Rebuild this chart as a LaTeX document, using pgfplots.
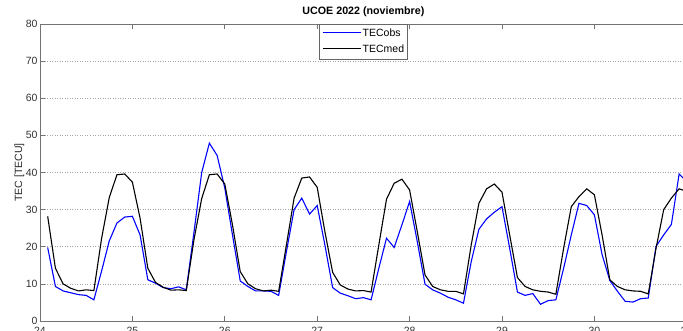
\documentclass[border=0pt]{standalone}
\usepackage{fontspec}
\setmainfont{Liberation Sans}
\usepackage{pgfplots}
\usepackage{pgfplotstable}
\pgfplotsset{compat=1.18}
\definecolor{obsblue}{rgb}{0,0,1}
\pgfplotstableread{
t obs med
24.083 19.8 28.2
24.167 9.3 14.2
24.250 8.1 10.0
24.333 7.6 8.8
24.417 7.1 8.1
24.500 6.9 8.4
24.583 5.7 8.2
24.667 13.5 22.3
24.750 21.6 33.3
24.833 26.4 39.4
24.917 28.0 39.6
25.000 28.2 37.4
25.083 23.2 27.7
25.167 11.1 14.2
25.250 10.2 10.4
25.333 9.0 9.1
25.417 8.7 8.3
25.500 9.2 8.4
25.583 8.4 8.2
25.667 24.0 22.0
25.750 40.0 33.0
25.833 47.9 39.4
25.917 44.6 39.6
26.000 35.8 36.9
26.083 23.2 25.9
26.167 10.8 13.3
26.250 9.3 10.0
26.333 8.1 8.7
26.417 8.1 8.1
26.500 8.0 8.3
26.583 6.9 8.0
26.667 18.7 20.5
26.750 30.0 33.1
26.833 33.1 38.5
26.917 28.8 38.8
27.000 31.1 36.0
27.083 20.5 24.1
27.167 9.0 13.1
27.250 7.5 9.7
27.333 6.8 8.6
27.417 6.0 8.1
27.500 6.3 8.2
27.583 5.7 7.8
27.667 14.2 20.5
27.750 22.3 32.8
27.833 19.8 37.1
27.917 25.9 38.2
28.000 32.2 35.3
28.083 21.4 24.1
28.167 9.9 12.4
28.250 8.4 9.3
28.333 7.5 8.4
28.417 6.4 8.0
28.500 5.7 8.0
28.583 4.8 7.3
28.667 16.0 20.5
28.750 24.7 31.7
28.833 27.5 35.6
28.917 29.3 36.9
29.000 30.8 34.7
29.083 19.6 23.2
29.167 7.8 11.7
29.250 6.9 9.3
29.333 7.4 8.4
29.417 4.5 8.0
29.500 5.5 7.8
29.583 5.7 7.2
29.667 14.2 19.6
29.750 23.2 30.8
29.833 31.7 33.5
29.917 31.1 35.6
30.000 28.6 34.0
30.083 17.9 23.2
30.167 10.9 11.1
30.250 8.0 9.3
30.333 5.3 8.4
30.417 5.1 8.1
30.500 6.0 8.0
30.583 6.2 7.3
30.667 20.1 19.6
30.750 23.2 30.0
30.833 26.0 33.1
30.917 39.6 35.6
31.000 37.5 34.9
}\datatable
\begin{document}
\begin{tikzpicture}
\begin{axis}[
  scale only axis,
  width=646.8pt, height=297pt,
  xmin=24, xmax=31, ymin=0, ymax=80,
  xtick={24,25,26,27,28,29,30,31},
  ytick={0,10,20,30,40,50,60,70,80},
  xtick pos=both, ytick pos=left,
  tick align=inside,
  major tick length=5pt,
  axis line style={black!55, line width=0.7pt},
  tick style={black!55, line width=0.7pt},
  ymajorgrids,
  major grid style={gray!70, line width=0.6pt, dash pattern=on 1pt off 1.5pt},
  tick label style={font=\fontsize{10.5}{12}\selectfont, text=black!80},
  /pgf/number format/assume math mode=true,
  xticklabel style={yshift=-2.5pt},
  yticklabel style={xshift=1pt},
  title={UCOE 2022 (noviembre)},
  title style={at={(0.5,1)}, anchor=south, inner sep=1pt, yshift=0.5pt, font=\bfseries\fontsize{10.7}{12}\selectfont},
  ylabel={TEC [TECU]},
  ylabel style={at={(axis description cs:-0.0317,0.5)}, anchor=center, inner sep=0pt, font=\fontsize{10.5}{12}\selectfont, text=black!85},
  legend style={at={(0.5,1)}, anchor=north, draw=black!60, fill=white,
    font=\fontsize{10.5}{12}\selectfont, inner xsep=1pt, inner ysep=3pt, row sep=2.5pt},
  legend cell align=left,
  legend image code/.code={},
]
\addplot[color=obsblue, line width=1.1pt] table[x=t, y=obs] {\datatable};
\addlegendentry{\textcolor{obsblue}{\rule[0.32em]{38pt}{1.2pt}}\hspace{2pt}TECobs}
\addplot[color=black, line width=1.1pt] table[x=t, y=med] {\datatable};
\addlegendentry{\textcolor{black}{\rule[0.32em]{38pt}{1.2pt}}\hspace{2pt}TECmed}
\end{axis}
\pgfresetboundingbox
\useasboundingbox ([shift={(-40pt,-9pt)}]current axis.south west) rectangle ([shift={(643pt,321pt)}]current axis.south west);
\end{tikzpicture}
\end{document}
